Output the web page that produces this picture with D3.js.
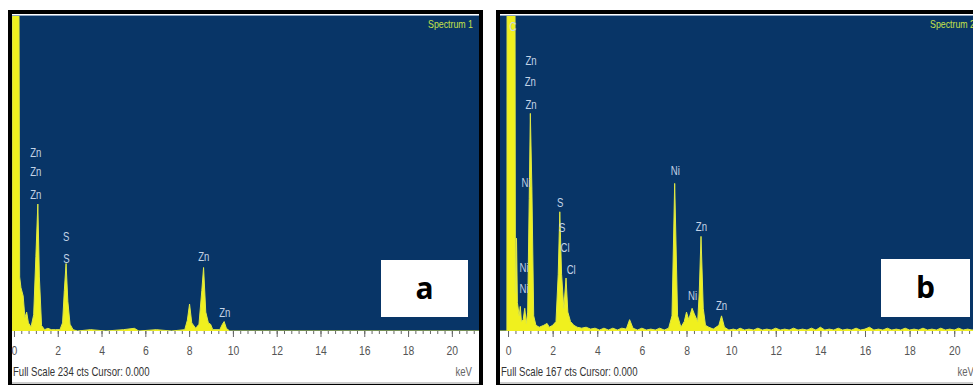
<!DOCTYPE html>
<html>
<head>
<meta charset="utf-8">
<script src="https://cdn.jsdelivr.net/npm/d3@7"></script>
<style>
  body { margin: 0; background: #fff; }
  svg { display: block; }
</style>
</head>
<body>
<div id="graph"></div>
<script>
// spectrum points: [keV, counts]
var spectrumA = [
  [-0.09, 0], [-0.06, 300], [0.22, 300], [0.26, 40], [0.32, 32], [0.42, 26], [0.5, 10],
  [0.58, 14], [0.66, 6], [0.78, 3], [0.9, 12], [1.0, 55], [1.09, 94], [1.16, 40], [1.26, 4],
  [1.4, 1], [1.55, 2], [1.7, 1], [1.9, 1], [2.1, 1], [2.22, 6], [2.3, 30], [2.38, 50],
  [2.46, 22], [2.56, 5], [2.7, 1], [2.9, 0], [3.5, 1], [4.2, 0], [5.0, 1], [5.5, 2],
  [5.7, 0], [6.5, 1], [7.2, 0], [7.8, 1], [7.92, 8], [8.02, 20], [8.12, 6], [8.3, 2],
  [8.45, 5], [8.58, 30], [8.66, 47], [8.76, 14], [8.88, 6], [8.98, 5], [9.08, 1], [9.4, 1],
  [9.52, 5], [9.6, 7], [9.7, 2], [9.85, 0], [21.24, 0]
];

var spectrumB = [
  [-0.36, 0], [-0.05, 0], [-0.04, 300], [0.3, 300], [0.33, 20], [0.38, 49], [0.42, 15],
  [0.5, 8], [0.55, 13], [0.6, 5], [0.68, 6], [0.75, 12], [0.82, 4], [0.88, 10], [0.95, 70],
  [1.0, 115], [1.07, 75], [1.15, 8], [1.25, 3], [1.4, 2], [1.6, 3], [1.75, 4], [1.85, 2],
  [2.0, 3], [2.15, 5], [2.25, 30], [2.32, 63], [2.4, 30], [2.5, 12], [2.6, 28], [2.68, 10],
  [2.8, 5], [2.95, 3], [3.1, 2], [3.3, 1.5], [3.5, 2], [3.7, 1], [3.9, 1.5], [4.1, 0.5],
  [4.3, 1.5], [4.5, 0.5], [4.7, 1.5], [4.9, 0.5], [5.1, 1.5], [5.3, 1], [5.45, 6], [5.6, 1.5],
  [5.8, 0.5], [6.0, 1.5], [6.2, 0.5], [6.4, 1], [6.6, 0.5], [6.8, 1.5], [7.0, 0.5], [7.2, 1.5],
  [7.35, 8], [7.47, 78], [7.6, 8], [7.75, 2], [7.9, 5], [8.0, 10], [8.1, 6], [8.25, 12],
  [8.35, 9], [8.5, 5], [8.57, 20], [8.65, 50], [8.75, 12], [8.85, 3], [9.0, 2], [9.2, 1],
  [9.45, 3], [9.57, 8], [9.7, 2], [9.9, 0.5], [10.1, 1], [10.25, 0.5], [10.4, 1.5], [10.6, 0.5],
  [10.8, 1], [11.0, 0.5], [11.2, 1.5], [11.4, 0.5], [11.6, 1], [11.8, 0.5], [12.0, 1.5],
  [12.2, 0.5], [12.4, 1], [12.6, 0.5], [12.8, 1.5], [13.0, 0.5], [13.2, 1], [13.4, 0.5],
  [13.6, 1.5], [13.8, 0.5], [14.0, 2], [14.2, 0.5], [14.4, 1], [14.6, 0.5], [14.8, 1.5],
  [15.0, 0.5], [15.2, 1], [15.4, 0.5], [15.6, 1.5], [15.8, 0.5], [16.0, 1], [16.2, 2],
  [16.4, 0.5], [16.6, 1], [16.8, 0.5], [17.0, 1.5], [17.2, 0.5], [17.4, 1], [17.6, 0.5],
  [17.8, 1.5], [18.0, 0.5], [18.2, 1], [18.4, 0.5], [18.6, 1.5], [18.8, 0.5], [19.0, 1],
  [19.2, 0.5], [19.4, 1.5], [19.6, 0.5], [19.8, 1], [20.0, 0.5], [20.2, 1.5], [20.4, 0.5],
  [20.6, 1], [20.8, 0.5], [21.0, 1], [21.2, 0]
];

// element labels: [text, keV, counts]
var labelsA = [
  ['Zn', 1.0, 131], ['Zn', 1.0, 117], ['Zn', 1.0, 100],
  ['S', 2.38, 69], ['S', 2.4, 53],
  ['Zn', 8.67, 54], ['Zn', 9.63, 12.6]
];

var labelsB = [
  ['C', 0.22, 160],
  ['Zn', 1.03, 142], ['Zn', 1.0, 131], ['Zn', 1.03, 119],
  ['Ni', 0.81, 78], ['Ni', 0.72, 33], ['Ni', 0.72, 22],
  ['S', 2.34, 67], ['S', 2.43, 54], ['Cl', 2.56, 43.5], ['Cl', 2.83, 32],
  ['Ni', 7.5, 84], ['Zn', 8.67, 54.6], ['Ni', 8.27, 18], ['Zn', 9.57, 12.7]
];

var fullScales = [234, 167];
var spectrumNames = ['Spectrum 1', 'Spectrum 2'];
var panelLetters = ['a', 'b'];
var tickLabels = [0, 2, 4, 6, 8, 10, 12, 14, 16, 18, 20];
var minorTicks = d3.range(0, 64).map(function(i) { return i / 3; });

var width = 973, height = 385;

var svg = d3.select('#graph')
  .append('svg')
  .attr('width', width)
  .attr('height', height);

var panels = [
  { spectrum: spectrumA, labels: labelsA, left: 12, right: 479, domain: [-0.09, 21.24],
    box: [381, 260, 87, 57] },
  { spectrum: spectrumB, labels: labelsB, left: 500, right: 981, domain: [-0.36, 21.2],
    box: [881, 259, 89, 58] }
];

var plotTop = 15, base = 331, plotBottom = 383;
var labelFont = '"Liberation Sans", Arial, sans-serif';

// squeeze text sideways, the instrument font is a narrow one
function narrowText(sel, x, y, sx) {
  sel.attr('x', 0).attr('y', 0)
    .attr('transform', function(d) {
      var xx = typeof x === 'function' ? x(d) : x;
      var yy = typeof y === 'function' ? y(d) : y;
      return 'translate(' + xx + ',' + yy + ') scale(' + sx + ',1)';
    });
}

panels.forEach(function(p, i) {
  var g = svg.append('g');

  var x = d3.scaleLinear().domain(p.domain).range([p.left, p.right]);
  var y = d3.scaleLinear().domain([0, fullScales[i]]).range([base, plotTop]);

  // black frame + white axis strip
  g.append('rect')
    .attr('x', p.left - 2).attr('y', plotTop - 3)
    .attr('width', p.right - p.left + 4).attr('height', plotBottom - plotTop + 6)
    .attr('fill', '#fff').attr('stroke', '#000').attr('stroke-width', 4);

  g.append('line')
    .attr('x1', p.left).attr('x2', p.right)
    .attr('y1', plotBottom).attr('y2', plotBottom)
    .attr('stroke', '#999').attr('stroke-width', 1);

  g.append('rect')
    .attr('x', p.left).attr('y', plotTop)
    .attr('width', p.right - p.left).attr('height', base - plotTop)
    .attr('fill', '#083567');

  g.append('line')
    .attr('x1', p.left).attr('x2', p.right)
    .attr('y1', plotTop + 0.5).attr('y2', plotTop + 0.5)
    .attr('stroke', '#8ea6c4').attr('stroke-width', 1);

  var clipId = 'clip' + i;
  svg.append('clipPath').attr('id', clipId)
    .append('rect')
    .attr('x', p.left).attr('y', plotTop + 1)
    .attr('width', p.right - p.left).attr('height', base - plotTop - 1);

  var area = d3.area()
    .x(function(d) { return x(d[0]); })
    .y0(base)
    .y1(function(d) { return y(d[1]); });

  var line = d3.line()
    .x(function(d) { return x(d[0]); })
    .y(function(d) { return y(d[1]); });

  g.append('path')
    .datum(p.spectrum)
    .attr('clip-path', 'url(#' + clipId + ')')
    .attr('d', area)
    .attr('fill', '#f0f01e');

  g.append('path')
    .datum(p.spectrum)
    .attr('clip-path', 'url(#' + clipId + ')')
    .attr('d', line)
    .attr('fill', 'none')
    .attr('stroke', '#dfe844')
    .attr('stroke-width', 1);

  // element labels
  g.selectAll('text.el')
    .data(p.labels)
    .enter()
    .append('text')
    .attr('class', 'el')
    .call(narrowText, function(d) { return x(d[1]); }, function(d) { return y(d[2]); }, 0.8)
    .attr('text-anchor', 'middle')
    .attr('dominant-baseline', 'middle')
    .attr('font-family', labelFont)
    .attr('font-size', 12)
    .attr('fill', '#c3d3e6')
    .text(function(d) { return d[0]; });

  g.append('text')
    .call(narrowText, p.right - 6, 25, 0.8)
    .attr('text-anchor', 'end')
    .attr('dominant-baseline', 'middle')
    .attr('font-family', labelFont)
    .attr('font-size', 11)
    .attr('fill', '#c6e24a')
    .text(spectrumNames[i]);

  // axis
  var minorAxis = d3.axisBottom(x).tickValues(minorTicks).tickSize(3).tickFormat('');
  var majorAxis = d3.axisBottom(x).tickValues(tickLabels).tickSize(6).tickPadding(9);

  g.append('g')
    .attr('transform', 'translate(0,' + base + ')')
    .call(minorAxis)
    .call(function(a) { a.select('.domain').remove(); })
    .selectAll('line').attr('stroke', '#666');

  var ax = g.append('g')
    .attr('transform', 'translate(0,' + base + ')')
    .call(majorAxis);
  ax.select('.domain').remove();
  ax.selectAll('line').attr('stroke', '#666');
  ax.selectAll('text')
    .attr('font-family', labelFont)
    .attr('font-size', 13)
    .attr('fill', '#555')
    .attr('transform', function(d) { return 'scale(0.8,1)'; })
    .attr('x', function() { return 0; });
  ax.selectAll('.tick text').attr('transform', 'scale(0.8,1)');

  g.append('text')
    .call(narrowText, p.left + 1, 373, 0.8)
    .attr('dominant-baseline', 'middle')
    .attr('font-family', labelFont)
    .attr('font-size', 12)
    .attr('fill', '#333')
    .text('Full Scale ' + fullScales[i] + ' cts Cursor: 0.000');

  g.append('text')
    .call(narrowText, p.right - 7, 373, 0.8)
    .attr('text-anchor', 'end')
    .attr('dominant-baseline', 'middle')
    .attr('font-family', labelFont)
    .attr('font-size', 12)
    .attr('fill', '#666')
    .text('keV');

  // panel letter box
  g.append('rect')
    .attr('x', p.box[0]).attr('y', p.box[1])
    .attr('width', p.box[2]).attr('height', p.box[3])
    .attr('fill', '#fff');

  g.append('text')
    .attr('x', p.box[0] + p.box[2] / 2).attr('y', p.box[1] + p.box[3] / 2 + 2)
    .attr('text-anchor', 'middle')
    .attr('dominant-baseline', 'middle')
    .attr('font-family', '"Open Sans", sans-serif')
    .attr('font-weight', 'bold')
    .attr('font-size', 30)
    .attr('fill', '#000')
    .text(panelLetters[i]);
});
</script>
</body>
</html>
